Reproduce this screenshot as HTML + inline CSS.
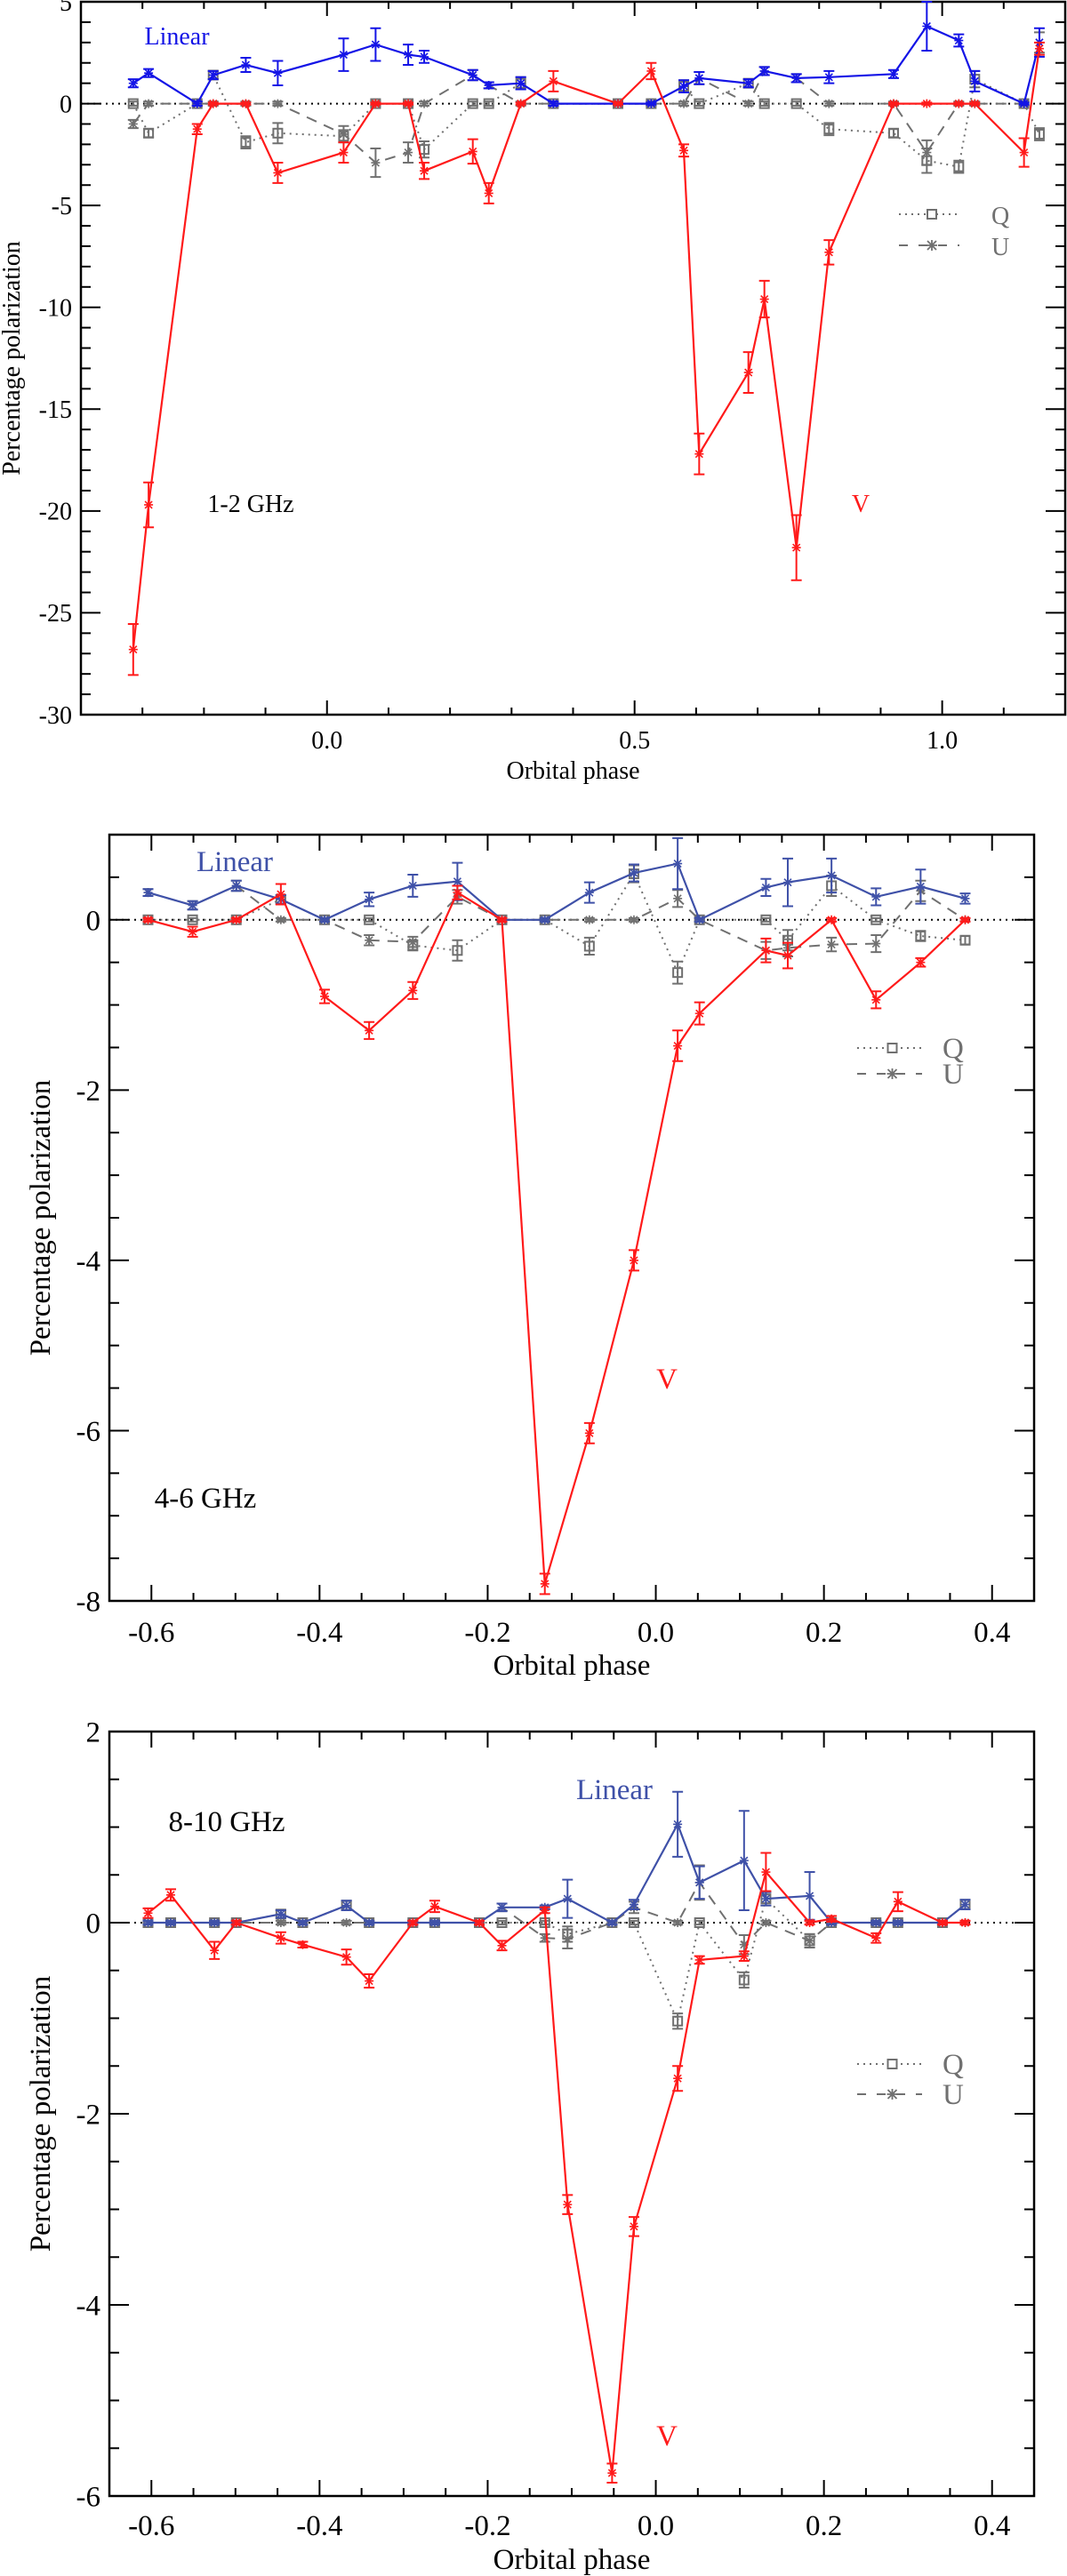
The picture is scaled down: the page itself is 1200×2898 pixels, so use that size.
<!DOCTYPE html>
<html><head><meta charset="utf-8">
<style>
html,body{margin:0;padding:0;background:#fff;}
svg{display:block;font-family:"Liberation Serif",serif;}
</style></head>
<body>
<svg id="fig" width="1200" height="2898" viewBox="0 0 1200 2898" xmlns="http://www.w3.org/2000/svg"></svg>
<script>
// ---------- Panel 1: 1-2 GHz ----------
const p1Phase = [-0.315,-0.290,-0.211,-0.185,-0.132,-0.080,0.027,0.079,0.132,0.158,0.237,0.263,0.315,0.368,0.473,0.527,0.580,0.605,0.685,0.711,0.763,0.816,0.921,0.975,1.027,1.053,1.133,1.158];
const p1Linear = [1.0,1.5,0,1.4,1.9,1.5,2.4,2.9,2.4,2.3,1.4,0.9,1.0,0,0,0,0.85,1.25,1.0,1.6,1.25,1.3,1.45,3.8,3.1,1.1,0,3.0];
const p1LinearErr = [0.2,0.2,0.1,0.2,0.35,0.6,0.8,0.8,0.5,0.3,0.25,0.15,0.3,0.1,0.05,0.05,0.3,0.3,0.2,0.2,0.2,0.3,0.2,1.2,0.3,0.5,0.05,0.7];
const p1V = [-26.8,-19.7,-1.25,0,0,-3.4,-2.4,0,0,-3.3,-2.35,-4.4,0,1.1,0,1.6,-2.3,-17.2,-13.2,-9.6,-21.8,-7.3,0,0,0,0,-2.4,2.7];
const p1VErr = [1.25,1.1,0.25,0.05,0.05,0.5,0.5,0.05,0.05,0.4,0.6,0.5,0.05,0.5,0.05,0.4,0.3,1.0,1.0,0.9,1.6,0.6,0.05,0.05,0.05,0.05,0.7,0.3];
const p1Q = [0,-1.45,0,1.4,-1.9,-1.45,-1.6,0,0,-2.25,0,0,1.0,0,0,0,0.85,0,1.0,0,0,-1.25,-1.45,-2.8,-3.1,1.2,0,-1.5];
const p1QErr = [0.1,0.2,0.1,0.2,0.3,0.5,0.3,0.1,0.1,0.4,0.1,0.1,0.3,0.1,0.1,0.1,0.3,0.1,0.2,0.1,0.1,0.3,0.2,0.6,0.3,0.4,0.1,0.3];
const p1U = [-1.0,0,0,0,0,0,-1.5,-2.9,-2.4,0,1.4,0.9,0,0,0,0,0,1.25,0,1.6,1.25,0,0,-2.4,0,0,0,3.0];
const p1UErr = [0.2,0.1,0.1,0.1,0.1,0.1,0.4,0.7,0.5,0.1,0.25,0.15,0.1,0.1,0.1,0.1,0.1,0.3,0.1,0.2,0.2,0.1,0.1,0.6,0.1,0.1,0.1,0.5];
const p1YTicks = [5,0,-5,-10,-15,-20,-25,-30];
const p1XTicks = [0.0,0.5,1.0];

// ---------- Panel 2: 4-6 GHz ----------
const p2Phase = [-0.604,-0.551,-0.499,-0.446,-0.394,-0.341,-0.289,-0.236,-0.183,-0.132,-0.079,-0.026,0.026,0.052,0.131,0.157,0.209,0.262,0.315,0.368];
const p2Linear = [0.32,0.17,0.40,0.24,0,0.24,0.40,0.45,0,0,0.32,0.55,0.66,0,0.38,0.44,0.52,0.27,0.39,0.25];
const p2LinearErr = [0.04,0.05,0.06,0.05,0.02,0.08,0.13,0.22,0.02,0.02,0.12,0.1,0.3,0.02,0.1,0.28,0.2,0.1,0.2,0.06];
const p2V = [0,-0.14,0,0.3,-0.9,-1.3,-0.83,0.32,0,-7.8,-6.03,-4.0,-1.48,-1.1,-0.36,-0.42,0,-0.94,-0.5,0];
const p2VErr = [0.02,0.06,0.02,0.12,0.08,0.1,0.1,0.08,0.02,0.12,0.12,0.12,0.18,0.13,0.14,0.15,0.02,0.1,0.05,0.02];
const p2Q = [0,0,0,0.24,0,0,-0.3,-0.36,0,0,-0.31,0.54,-0.62,0,0,-0.24,0.4,0,-0.19,-0.24];
const p2QErr = [0.02,0.02,0.02,0.05,0.02,0.02,0.06,0.12,0.02,0.02,0.1,0.1,0.13,0.02,0.02,0.12,0.12,0.02,0.06,0.05];
const p2U = [0.32,0.17,0.4,0,0,-0.24,-0.26,0.27,0,0,0,0,0.25,0,-0.36,-0.33,-0.29,-0.28,0.34,0];
const p2UErr = [0.04,0.05,0.06,0.02,0.02,0.06,0.06,0.08,0.02,0.02,0.02,0.02,0.1,0.02,0.1,0.1,0.08,0.1,0.12,0.02];
const p2YTicks = [0,-2,-4,-6,-8];
const p2XTicks = [-0.6,-0.4,-0.2,0.0,0.2,0.4];

// ---------- Panel 3: 8-10 GHz ----------
const p3Phase = [-0.604,-0.577,-0.525,-0.499,-0.446,-0.420,-0.368,-0.341,-0.289,-0.263,-0.210,-0.183,-0.132,-0.105,-0.052,-0.026,0.026,0.052,0.105,0.131,0.183,0.209,0.262,0.288,0.341,0.368];
const p3Linear = [0,0,0,0,0.09,0,0.18,0,0,0,0,0.16,0.16,0.25,0,0.19,1.03,0.42,0.65,0.25,0.28,0,0,0,0,0.19];
const p3LinearErr = [0.02,0.02,0.02,0.02,0.04,0.02,0.05,0.02,0.02,0.02,0.02,0.04,0.02,0.2,0.02,0.05,0.34,0.17,0.52,0.07,0.25,0.02,0.02,0.02,0.02,0.05];
const p3V = [0.1,0.29,-0.29,0,-0.16,-0.23,-0.36,-0.61,0,0.17,0,-0.24,0.13,-2.95,-5.76,-3.18,-1.63,-0.39,-0.35,0.53,0,0.04,-0.16,0.22,0,0];
const p3VErr = [0.05,0.06,0.09,0.02,0.06,0.03,0.08,0.07,0.02,0.06,0.02,0.05,0.03,0.1,0.1,0.1,0.13,0.04,0.05,0.2,0.02,0.03,0.05,0.1,0.02,0.02];
const p3Q = [0,0,0,0,0.09,0,0.18,0,0,0,0,0,0,-0.12,0,0,-1.03,0,-0.6,0.25,-0.19,0,0,0,0,0.19];
const p3QErr = [0.02,0.02,0.02,0.02,0.04,0.02,0.05,0.02,0.02,0.02,0.02,0.02,0.02,0.08,0.02,0.02,0.08,0.02,0.08,0.07,0.07,0.02,0.02,0.02,0.02,0.05];
const p3U = [0,0,0,0,0,0,0,0,0,0,0,0.16,-0.16,-0.17,0,0.16,0,0.42,-0.23,0,-0.19,0,0,0,0,0];
const p3UErr = [0.02,0.02,0.02,0.02,0.02,0.02,0.02,0.02,0.02,0.02,0.02,0.04,0.04,0.1,0.02,0.06,0.02,0.18,0.1,0.02,0.07,0.02,0.02,0.02,0.02,0.02];
const p3YTicks = [2,0,-2,-4,-6];
const p3XTicks = [-0.6,-0.4,-0.2,0.0,0.2,0.4];

const NS = "http://www.w3.org/2000/svg";
const fig = document.getElementById('fig');
function mk(tag, attrs, parent){
  const e = document.createElementNS(NS, tag);
  for (const k in attrs) e.setAttribute(k, attrs[k]);
  (parent||fig).appendChild(e);
  return e;
}

function drawPanel(cfg){
  const g = mk('g', {});
  
  
  const L=cfg.left,R=cfg.right,T=cfg.top,B=cfg.bottom;
  const sx = v => L + (v - cfg.xMin) / (cfg.xMax - cfg.xMin) * (R - L);
  const sy = v => B - (v - cfg.yMin) / (cfg.yMax - cfg.yMin) * (B - T);

  // zero line
  const z = mk('line', {x1:L, x2:R, y1:sy(0), y2:sy(0), stroke:'#000', 'stroke-width':2, 'stroke-dasharray':'2,5'}, g);
  
  

  // ticks
  const tg = mk('g', {stroke:'#000','stroke-width':2}, g);
  
  
  const nyMinor = Math.round((cfg.yMax - cfg.yMin)/cfg.yMinor);
  for (let i=0;i<=nyMinor;i++){
    const v = cfg.yMin + i*cfg.yMinor;
    const major = Math.abs(v/cfg.yMajor - Math.round(v/cfg.yMajor))<1e-6;
    const len = major?cfg.majorLen:cfg.minorLen;
    const y = sy(v);
    mk('line',{x1:L,x2:L+len,y1:y,y2:y},tg);
    mk('line',{x1:R,x2:R-len,y1:y,y2:y},tg);
  }
  const startX = Math.ceil(cfg.xMin/cfg.xMinor-1e-6);
  const endX = Math.floor(cfg.xMax/cfg.xMinor+1e-6);
  for (let i=startX;i<=endX;i++){
    const v = i*cfg.xMinor;
    const major = Math.abs(v/cfg.xMajor - Math.round(v/cfg.xMajor))<1e-6;
    const len = major?cfg.xMajorLen:cfg.xMinorLen;
    const x = sx(v);
    mk('line',{x1:x,x2:x,y1:B,y2:B-len},tg);
    mk('line',{x1:x,x2:x,y1:T,y2:T+len},tg);
  }
  // frame
  const fr = mk('rect',{x:L,y:T,width:R-L,height:B-T,fill:'none',stroke:'#000','stroke-width':2.5},g);
  
  

  // tick labels
  cfg.yTicks.forEach(v=>{
    const t = mk('text',{x:L-10,y:sy(v)+cfg.fs*0.35,'text-anchor':'end','font-size':cfg.fs,fill:'#000'},g);
    
    
    t.textContent = String(v);
  });
  cfg.xTicks.forEach(v=>{
    const t = mk('text',{x:sx(v),y:cfg.xLabelY,'text-anchor':'middle','font-size':cfg.fs,fill:'#000'},g);
    
    
    t.textContent = v.toFixed(1);
  });
  const xt = mk('text',{x:(L+R)/2,y:cfg.xTitleY,'text-anchor':'middle','font-size':cfg.tfs,fill:'#000'},g);
  
  
  xt.textContent = 'Orbital phase';
  const yt = mk('text',{x:0,y:0,'text-anchor':'middle','font-size':cfg.tfs,fill:'#000',transform:`translate(${cfg.yTitleX},${(T+B)/2}) rotate(-90)`},g);
  
  
  yt.textContent = 'Percentage polarization';

  function series(name, vals, errs, color, dash, marker, width){
    const sg = mk('g',{},g);
    
    
    const pts = cfg.phase.map((p,i)=>sx(p).toFixed(1)+','+sy(vals[i]).toFixed(1)).join(' ');
    const pl = mk('polyline',{points:pts,fill:'none',stroke:color,'stroke-width':width,'stroke-dasharray':dash},sg);
    
    
    cfg.phase.forEach((p,i)=>{
      const x=sx(p), y=sy(vals[i]);
      const y1=sy(vals[i]+errs[i]), y2=sy(vals[i]-errs[i]);
      const eb = mk('path',{d:`M${x},${y1}V${y2}M${x-6},${y1}H${x+6}M${x-6},${y2}H${x+6}`,stroke:color,'stroke-width':2,fill:'none'},sg);
      
      
      let m;
      if (marker==='sq'){
        m = mk('rect',{x:x-5,y:y-5,width:10,height:10,fill:'none',stroke:color,'stroke-width':2},sg);
      } else {
        m = mk('path',{d:`M${x-5},${y}H${x+5}M${x-4},${y-4}L${x+4},${y+4}M${x-4},${y+4}L${x+4},${y-4}M${x},${y-5}V${y+5}`,stroke:color,'stroke-width':1.6},sg);
      }
      
      
    });
  }
  series('q-series', cfg.Q, cfg.QErr, '#707070', '2,5', 'sq', 2);
  series('u-series', cfg.U, cfg.UErr, '#707070', '12,9', 'st', 2);
  series('linear-series', cfg.lin, cfg.linErr, cfg.linColor, 'none', 'st', 2.2);
  series('v-series', cfg.V, cfg.VErr, '#ff1a1a', 'none', 'st', 2.2);

  // annotations
  function label(txt, x, y, size, color, nm, anchor){
    const t = mk('text',{x:x,y:y,'font-size':size,fill:color,'text-anchor':anchor||'middle'},g);
    
    
    t.textContent = txt;
    return t;
  }
  label('Linear', cfg.linLbl[0], cfg.linLbl[1], cfg.fs, cfg.linColor, 'linear-label');
  label('V', cfg.vLbl[0], cfg.vLbl[1], cfg.fs, '#ff1a1a', 'v-label');
  label(cfg.band, cfg.bandLbl[0], cfg.bandLbl[1], cfg.fs, '#000', 'band-label');
  // legend
  const lg = mk('g',{},g);
  
  
  const [lx1,lx2,ly1,ly2,ltx] = cfg.legend;
  const lq = mk('g',{},lg);
  
  
  mk('line',{x1:lx1,x2:lx2,y1:ly1,y2:ly1,stroke:'#707070','stroke-width':2,'stroke-dasharray':'2,5'},lq);
  const mx=(lx1+lx2)/2+3;
  mk('rect',{x:mx-5,y:ly1-5,width:10,height:10,fill:'#fff',stroke:'#707070','stroke-width':2},lq);
  const tq = mk('text',{x:ltx,y:ly1+11,'font-size':cfg.fs,fill:'#707070'},lq); tq.textContent='Q';
  const lu = mk('g',{},lg);
  
  
  mk('line',{x1:lx1,x2:lx2,y1:ly2,y2:ly2,stroke:'#707070','stroke-width':2,'stroke-dasharray':'10,12'},lu);
  mk('path',{d:`M${mx-6},${ly2}H${mx+6}M${mx-5},${ly2-5}L${mx+5},${ly2+5}M${mx-5},${ly2+5}L${mx+5},${ly2-5}M${mx},${ly2-6}V${ly2+6}`,stroke:'#707070','stroke-width':1.8},lu);
  const tu = mk('text',{x:ltx,y:ly2+11,'font-size':cfg.fs,fill:'#707070'},lu); tu.textContent='U';
}

drawPanel({name:'panel-1-2ghz', left:91, right:1198, top:2, bottom:804,
  xMin:-0.4, xMax:1.2, yMin:-30, yMax:5, yMajor:5, yMinor:1, xMajor:0.5, xMinor:0.1,
  majorLen:22, minorLen:11, xMajorLen:16, xMinorLen:8,
  yTicks:p1YTicks, xTicks:p1XTicks, fs:28, tfs:28, xLabelY:842, xTitleY:876, yTitleX:22,
  phase:p1Phase, lin:p1Linear, linErr:p1LinearErr, V:p1V, VErr:p1VErr, Q:p1Q, QErr:p1QErr, U:p1U, UErr:p1UErr,
  linColor:'#1414e6', linLbl:[199,50], vLbl:[968,576], band:'1-2 GHz', bandLbl:[282,576],
  legend:[1011,1079,241,276,1115]});

drawPanel({name:'panel-4-6ghz', left:123, right:1163, top:939, bottom:1801,
  xMin:-0.65, xMax:0.45, yMin:-8, yMax:1, yMajor:2, yMinor:0.5, xMajor:0.2, xMinor:0.05,
  majorLen:22, minorLen:11, xMajorLen:18, xMinorLen:9,
  yTicks:p2YTicks, xTicks:p2XTicks, fs:33, tfs:33, xLabelY:1847, xTitleY:1884, yTitleX:56,
  phase:p2Phase, lin:p2Linear, linErr:p2LinearErr, V:p2V, VErr:p2VErr, Q:p2Q, QErr:p2QErr, U:p2U, UErr:p2UErr,
  linColor:'#3f51a8', linLbl:[264,980], vLbl:[750,1562], band:'4-6 GHz', bandLbl:[231,1696],
  legend:[964,1037,1179,1208,1060]});

drawPanel({name:'panel-8-10ghz', left:123, right:1163, top:1948, bottom:2808,
  xMin:-0.65, xMax:0.45, yMin:-6, yMax:2, yMajor:2, yMinor:0.5, xMajor:0.2, xMinor:0.05,
  majorLen:22, minorLen:11, xMajorLen:18, xMinorLen:9,
  yTicks:p3YTicks, xTicks:p3XTicks, fs:33, tfs:33, xLabelY:2852, xTitleY:2890, yTitleX:56,
  phase:p3Phase, lin:p3Linear, linErr:p3LinearErr, V:p3V, VErr:p3VErr, Q:p3Q, QErr:p3QErr, U:p3U, UErr:p3UErr,
  linColor:'#3f51a8', linLbl:[691,2024], vLbl:[750,2751], band:'8-10 GHz', bandLbl:[255,2060],
  legend:[964,1037,2322,2356,1060]});
</script>
</body></html>
